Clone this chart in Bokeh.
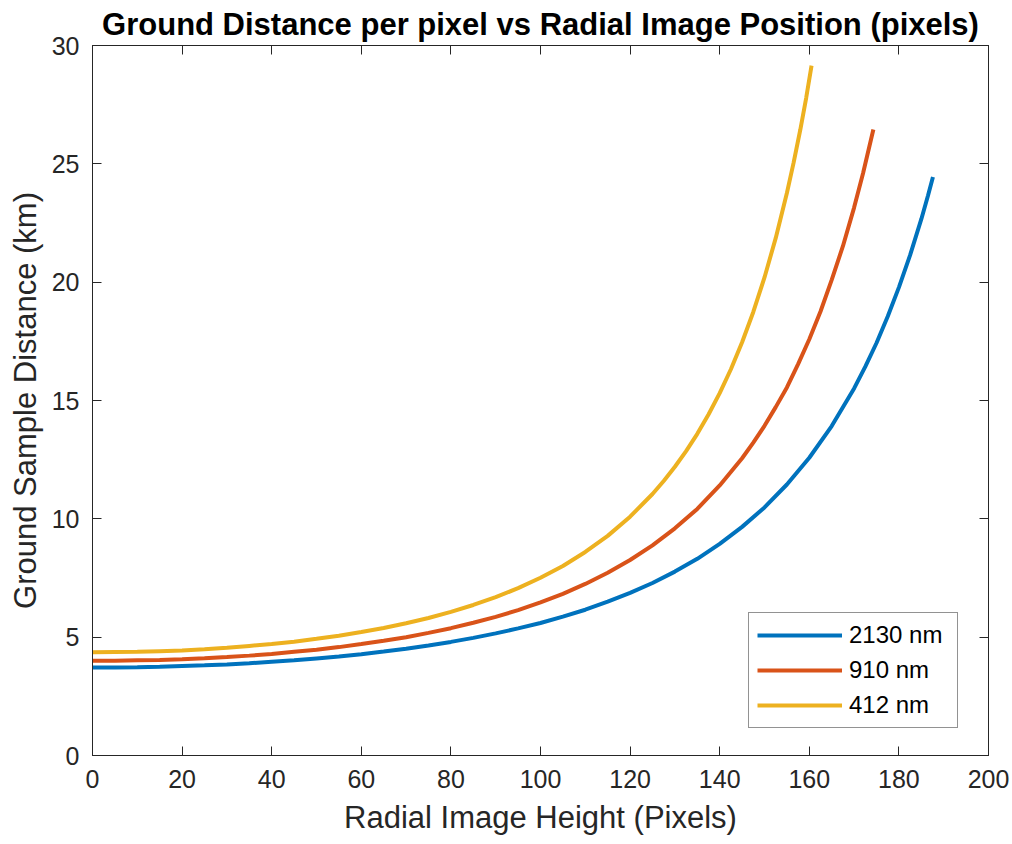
from bokeh.plotting import figure
from bokeh.models import Range1d, LinearAxis, FixedTicker, Legend, LegendItem, CustomJSTickFormatter
from bokeh.embed import file_html
from bokeh.resources import INLINE

# Ground sample distance (km) versus radial image height (pixels), per band
x_2130 = [0, 5, 10, 15, 20, 25, 30, 35, 40, 45, 50, 55, 60, 65, 70, 75, 80, 85, 90, 95,
          100, 105, 110, 115, 120, 125, 130, 135, 140, 145, 150, 155, 160, 165, 170,
          172.5, 175, 177.5, 180, 182.5, 185, 186.5, 187.6]
gsd_2130 = [3.72, 3.72, 3.73, 3.75, 3.78, 3.81, 3.85, 3.90, 3.96, 4.02, 4.10, 4.18, 4.28, 4.39,
            4.51, 4.65, 4.80, 4.97, 5.16, 5.37, 5.60, 5.87, 6.16, 6.50, 6.87, 7.29, 7.77, 8.31,
            8.94, 9.66, 10.48, 11.45, 12.58, 13.92, 15.51, 16.43, 17.43, 18.55, 19.78, 21.14,
            22.66, 23.66, 24.44]

x_910 = [0, 5, 10, 15, 20, 25, 30, 35, 40, 45, 50, 55, 60, 65, 70, 75, 80, 85, 90, 95,
         100, 105, 110, 115, 120, 125, 130, 135, 140, 145, 147.5, 150, 152.5, 155, 157.5,
         160, 162.5, 165, 167.5, 170, 172, 174.3]
gsd_910 = [4.00, 4.00, 4.02, 4.04, 4.07, 4.11, 4.16, 4.22, 4.29, 4.38, 4.47, 4.58, 4.71, 4.85,
           5.00, 5.18, 5.38, 5.61, 5.86, 6.14, 6.47, 6.83, 7.25, 7.72, 8.26, 8.88, 9.60, 10.42,
           11.41, 12.56, 13.22, 13.93, 14.72, 15.55, 16.54, 17.59, 18.76, 20.10, 21.52, 23.15,
           24.60, 26.45]

x_412 = [0, 5, 10, 15, 20, 25, 30, 35, 40, 45, 50, 55, 60, 65, 70, 75, 80, 85, 90, 95,
         100, 105, 110, 115, 120, 125, 127.5, 130, 132.5, 135, 137.5, 140, 142.5, 145,
         147.5, 150, 152.5, 155, 156.5, 158, 159.3, 160.5]
gsd_412 = [4.36, 4.37, 4.38, 4.41, 4.44, 4.49, 4.55, 4.63, 4.71, 4.81, 4.93, 5.06, 5.22, 5.39,
           5.59, 5.81, 6.07, 6.36, 6.69, 7.07, 7.51, 8.01, 8.60, 9.28, 10.09, 11.05, 11.60,
           12.20, 12.86, 13.59, 14.41, 15.31, 16.32, 17.46, 18.74, 20.20, 21.86, 23.77, 25.05,
           26.45, 27.78, 29.15]

band_labels = ["2130 nm", "910 nm", "412 nm"]
band_colors = ["#0072BD", "#D95319", "#EDB120"]

x_ticks = [0, 20, 40, 60, 80, 100, 120, 140, 160, 180, 200]
y_ticks = [0, 5, 10, 15, 20, 25, 30]

FONT = "Liberation Sans"
AXIS_COLOR = "#262626"

p = figure(width=1012, height=844, output_backend="svg", toolbar_location=None,
           x_range=Range1d(0, 200), y_range=Range1d(0, 30),
           min_border_left=92, min_border_right=24, min_border_top=45, min_border_bottom=89,
           title="Ground Distance per pixel vs Radial Image Position (pixels)")

p.title.text_font = FONT
p.title.text_font_size = "31px"
p.title.text_font_style = "bold"
p.title.text_color = "#000000"
p.title.align = "center"
p.title.standoff = 8

p.xgrid.visible = False
p.ygrid.visible = False
p.outline_line_color = AXIS_COLOR
p.outline_line_width = 1
p.background_fill_color = "white"
p.border_fill_color = "white"


def style_axis(ax, ticks, show_labels):
    ax.ticker = FixedTicker(ticks=ticks)
    ax.axis_line_color = AXIS_COLOR
    ax.axis_line_width = 1
    ax.major_tick_line_color = AXIS_COLOR
    ax.major_tick_line_width = 1
    ax.major_tick_in = 9
    ax.major_tick_out = 0
    ax.minor_tick_line_color = None
    ax.major_label_text_font = FONT
    ax.major_label_text_color = AXIS_COLOR
    if show_labels:
        ax.major_label_text_font_size = "25px"
    else:
        # mirrored tick marks only, no numbers
        ax.formatter = CustomJSTickFormatter(code="return ''")
        ax.major_label_text_font_size = "1px"
        ax.major_label_standoff = 0


xa = p.xaxis[0]
ya = p.yaxis[0]
style_axis(xa, x_ticks, True)
style_axis(ya, y_ticks, True)
xa.major_label_standoff = 14
ya.major_label_standoff = 13

xa.axis_label = "Radial Image Height (Pixels)"
ya.axis_label = "Ground Sample Distance (km)"
for ax in (xa, ya):
    ax.axis_label_text_font = FONT
    ax.axis_label_text_font_size = "31px"
    ax.axis_label_text_font_style = "normal"
    ax.axis_label_text_color = AXIS_COLOR
xa.axis_label_standoff = 9
ya.axis_label_standoff = 6

top_axis = LinearAxis()
right_axis = LinearAxis()
style_axis(top_axis, x_ticks, False)
style_axis(right_axis, y_ticks, False)
p.add_layout(top_axis, "above")
p.add_layout(right_axis, "right")

r_2130 = p.line(x_2130, gsd_2130, line_width=4, line_color=band_colors[0])
r_910 = p.line(x_910, gsd_910, line_width=4, line_color=band_colors[1])
r_412 = p.line(x_412, gsd_412, line_width=4, line_color=band_colors[2])

legend = Legend(items=[LegendItem(label=band_labels[0], renderers=[r_2130]),
                       LegendItem(label=band_labels[1], renderers=[r_910]),
                       LegendItem(label=band_labels[2], renderers=[r_412])],
                location=(656, 27), margin=0)
legend.border_line_color = AXIS_COLOR
legend.border_line_width = 1
legend.background_fill_color = "white"
legend.background_fill_alpha = 1
legend.label_text_font = FONT
legend.label_text_font_size = "24px"
legend.label_text_color = "#000000"
legend.glyph_width = 85
legend.glyph_height = 28
legend.label_height = 28
legend.label_width = 100
legend.spacing = 7
legend.padding = 8
legend.label_standoff = 7
p.add_layout(legend, "center")

open("out.html", "w").write(file_html(p, INLINE))
